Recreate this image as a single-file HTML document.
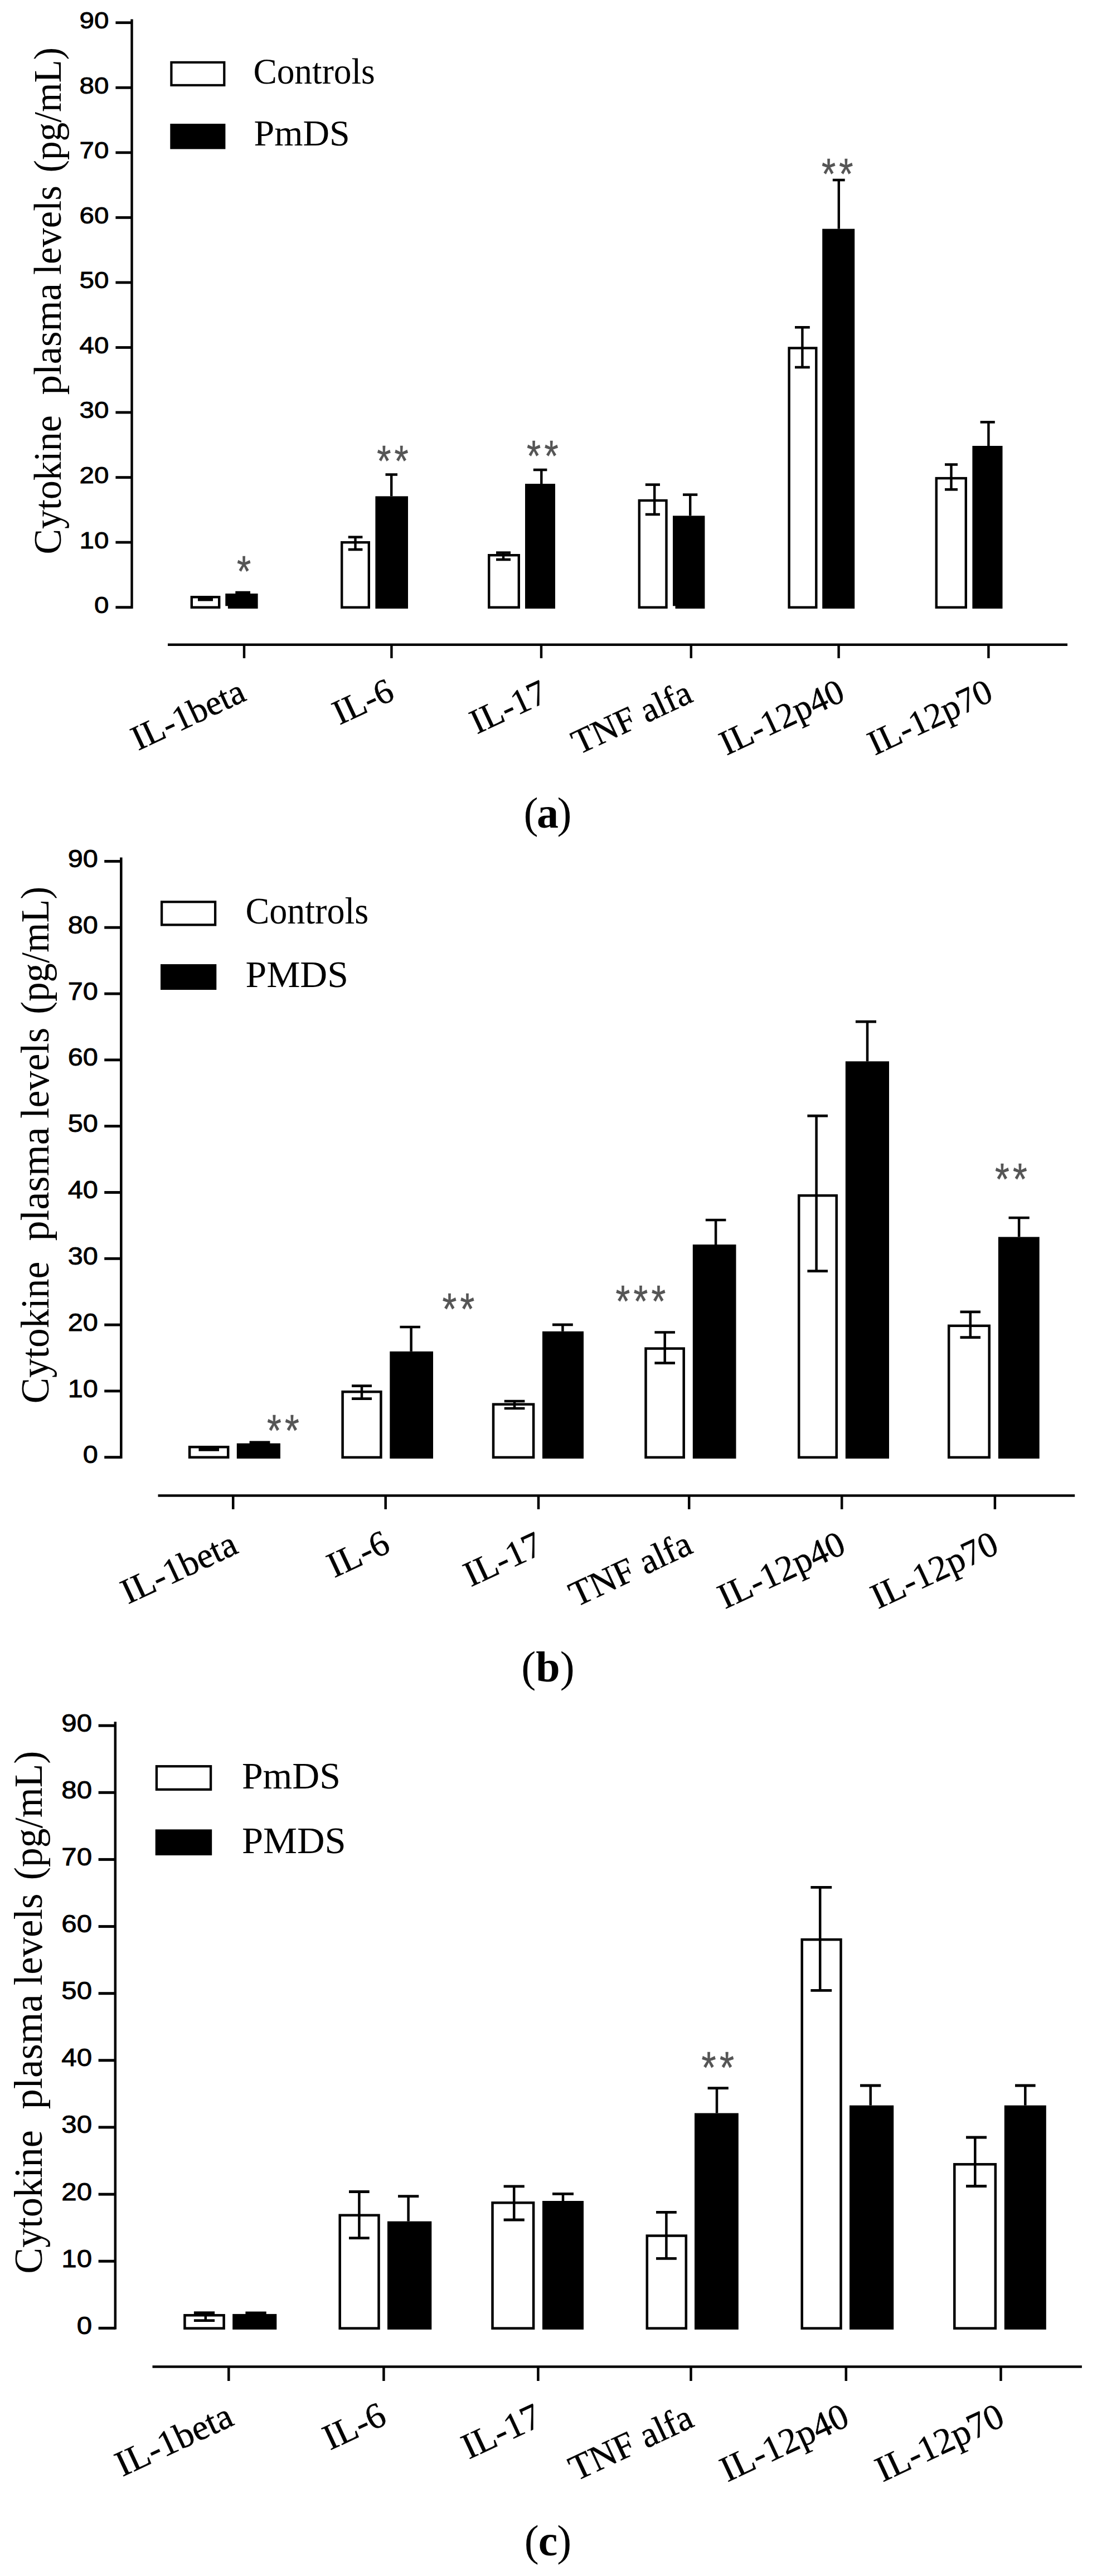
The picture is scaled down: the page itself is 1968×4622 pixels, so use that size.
<!DOCTYPE html>
<html lang="en"><head><meta charset="utf-8"><title>Cytokine plasma levels</title>
<style>html,body{margin:0;padding:0;background:#fff}svg{display:block}text{white-space:pre}</style>
</head><body>
<svg width="1968" height="4622" viewBox="0 0 1968 4622">
<rect width="1968" height="4622" fill="#fff"/>
<g>
<line x1="236.5" y1="34.4" x2="236.5" y2="1091.9" stroke="#000" stroke-width="4.4"/>
<line x1="207.4" y1="40.7" x2="236.5" y2="40.7" stroke="#000" stroke-width="4.8"/>
<g transform="translate(195.4,51.1) scale(1.1,1)">
<text x="0" y="0" font-family='"Liberation Sans", sans-serif' font-size="43.2" text-anchor="end" fill="#000" stroke="#000" stroke-width="0.9">90</text>
</g>
<line x1="207.4" y1="157.3" x2="236.5" y2="157.3" stroke="#000" stroke-width="4.8"/>
<g transform="translate(195.4,167.7) scale(1.1,1)">
<text x="0" y="0" font-family='"Liberation Sans", sans-serif' font-size="43.2" text-anchor="end" fill="#000" stroke="#000" stroke-width="0.9">80</text>
</g>
<line x1="207.4" y1="273.8" x2="236.5" y2="273.8" stroke="#000" stroke-width="4.8"/>
<g transform="translate(195.4,284.2) scale(1.1,1)">
<text x="0" y="0" font-family='"Liberation Sans", sans-serif' font-size="43.2" text-anchor="end" fill="#000" stroke="#000" stroke-width="0.9">70</text>
</g>
<line x1="207.4" y1="390.4" x2="236.5" y2="390.4" stroke="#000" stroke-width="4.8"/>
<g transform="translate(195.4,400.8) scale(1.1,1)">
<text x="0" y="0" font-family='"Liberation Sans", sans-serif' font-size="43.2" text-anchor="end" fill="#000" stroke="#000" stroke-width="0.9">60</text>
</g>
<line x1="207.4" y1="506.9" x2="236.5" y2="506.9" stroke="#000" stroke-width="4.8"/>
<g transform="translate(195.4,517.3) scale(1.1,1)">
<text x="0" y="0" font-family='"Liberation Sans", sans-serif' font-size="43.2" text-anchor="end" fill="#000" stroke="#000" stroke-width="0.9">50</text>
</g>
<line x1="207.4" y1="623.5" x2="236.5" y2="623.5" stroke="#000" stroke-width="4.8"/>
<g transform="translate(195.4,633.9) scale(1.1,1)">
<text x="0" y="0" font-family='"Liberation Sans", sans-serif' font-size="43.2" text-anchor="end" fill="#000" stroke="#000" stroke-width="0.9">40</text>
</g>
<line x1="207.4" y1="740" x2="236.5" y2="740" stroke="#000" stroke-width="4.8"/>
<g transform="translate(195.4,750.4) scale(1.1,1)">
<text x="0" y="0" font-family='"Liberation Sans", sans-serif' font-size="43.2" text-anchor="end" fill="#000" stroke="#000" stroke-width="0.9">30</text>
</g>
<line x1="207.4" y1="856.6" x2="236.5" y2="856.6" stroke="#000" stroke-width="4.8"/>
<g transform="translate(195.4,867) scale(1.1,1)">
<text x="0" y="0" font-family='"Liberation Sans", sans-serif' font-size="43.2" text-anchor="end" fill="#000" stroke="#000" stroke-width="0.9">20</text>
</g>
<line x1="207.4" y1="973.1" x2="236.5" y2="973.1" stroke="#000" stroke-width="4.8"/>
<g transform="translate(195.4,983.5) scale(1.1,1)">
<text x="0" y="0" font-family='"Liberation Sans", sans-serif' font-size="43.2" text-anchor="end" fill="#000" stroke="#000" stroke-width="0.9">10</text>
</g>
<line x1="207.4" y1="1089.7" x2="236.5" y2="1089.7" stroke="#000" stroke-width="4.8"/>
<g transform="translate(195.4,1100.1) scale(1.1,1)">
<text x="0" y="0" font-family='"Liberation Sans", sans-serif' font-size="43.2" text-anchor="end" fill="#000" stroke="#000" stroke-width="0.9">0</text>
</g>
<g transform="translate(108.8,994.5) rotate(-90)">
<text y="0" font-family='"Liberation Serif", serif' font-size="69.5" fill="#000"><tspan x="0" textLength="249.5" lengthAdjust="spacingAndGlyphs">Cytokine</tspan> <tspan x="286" textLength="200.5" lengthAdjust="spacingAndGlyphs">plasma</tspan> <tspan x="501.5" textLength="160" lengthAdjust="spacingAndGlyphs">levels</tspan> <tspan x="685" textLength="224.5" lengthAdjust="spacingAndGlyphs">(pg/mL)</tspan></text>
</g>
<rect x="307.4" y="111.9" width="94.9" height="41" fill="#fff" stroke="#000" stroke-width="4.2"/>
<rect x="305.3" y="222" width="99.1" height="45.5" fill="#000"/>
<text x="454.4" y="150.4" font-family='"Liberation Serif", serif' font-size="66.5" text-anchor="start" fill="#000" textLength="218.3" lengthAdjust="spacingAndGlyphs">Controls</text>
<text x="455.5" y="261.4" font-family='"Liberation Serif", serif' font-size="66.5" text-anchor="start" fill="#000" textLength="172.1" lengthAdjust="spacingAndGlyphs">PmDS</text>
<line x1="301" y1="1156.8" x2="1915" y2="1156.8" stroke="#000" stroke-width="4.4"/>
<line x1="438" y1="1156.8" x2="438" y2="1181" stroke="#000" stroke-width="4.4"/>
<line x1="702.4" y1="1156.8" x2="702.4" y2="1181" stroke="#000" stroke-width="4.4"/>
<line x1="971" y1="1156.8" x2="971" y2="1181" stroke="#000" stroke-width="4.4"/>
<line x1="1239.8" y1="1156.8" x2="1239.8" y2="1181" stroke="#000" stroke-width="4.4"/>
<line x1="1504.6" y1="1156.8" x2="1504.6" y2="1181" stroke="#000" stroke-width="4.4"/>
<line x1="1773.4" y1="1156.8" x2="1773.4" y2="1181" stroke="#000" stroke-width="4.4"/>
<rect x="343.8" y="1071.3" width="49.4" height="18.5" fill="#fff" stroke="#000" stroke-width="4.4"/>
<line x1="368.5" y1="1072" x2="368.5" y2="1076.2" stroke="#000" stroke-width="4.4"/>
<line x1="355" y1="1072" x2="382" y2="1072" stroke="#000" stroke-width="4.6"/>
<line x1="355" y1="1076.2" x2="382" y2="1076.2" stroke="#000" stroke-width="4.6"/>
<rect x="404.3" y="1065" width="58.3" height="27" fill="#000"/>
<line x1="435.6" y1="1063" x2="435.6" y2="1065" stroke="#000" stroke-width="4.4"/>
<line x1="422.3" y1="1063" x2="449" y2="1063" stroke="#000" stroke-width="4.6"/>
<rect x="613.2" y="973.2" width="48.6" height="116.6" fill="#fff" stroke="#000" stroke-width="4.4"/>
<line x1="637.5" y1="963.7" x2="637.5" y2="986" stroke="#000" stroke-width="4.4"/>
<line x1="624.7" y1="963.7" x2="650.4" y2="963.7" stroke="#000" stroke-width="4.6"/>
<line x1="624.7" y1="986" x2="650.4" y2="986" stroke="#000" stroke-width="4.6"/>
<rect x="673.4" y="890.4" width="58.6" height="201.6" fill="#000"/>
<line x1="702.2" y1="851.5" x2="702.2" y2="890.4" stroke="#000" stroke-width="4.4"/>
<line x1="691.5" y1="851.5" x2="713" y2="851.5" stroke="#000" stroke-width="4.6"/>
<rect x="877.2" y="996.2" width="53.6" height="93.6" fill="#fff" stroke="#000" stroke-width="4.4"/>
<line x1="903" y1="991.6" x2="903" y2="1004" stroke="#000" stroke-width="4.4"/>
<line x1="890" y1="991.6" x2="916" y2="991.6" stroke="#000" stroke-width="4.6"/>
<line x1="890" y1="1004" x2="916" y2="1004" stroke="#000" stroke-width="4.6"/>
<rect x="942" y="868" width="54" height="224" fill="#000"/>
<line x1="971.3" y1="843" x2="971.3" y2="868" stroke="#000" stroke-width="4.4"/>
<line x1="956.8" y1="843" x2="981.4" y2="843" stroke="#000" stroke-width="4.6"/>
<rect x="1146.8" y="898" width="48.7" height="191.8" fill="#fff" stroke="#000" stroke-width="4.4"/>
<line x1="1174.2" y1="869.6" x2="1174.2" y2="923" stroke="#000" stroke-width="4.4"/>
<line x1="1157.8" y1="869.6" x2="1184" y2="869.6" stroke="#000" stroke-width="4.6"/>
<line x1="1157.8" y1="923" x2="1184" y2="923" stroke="#000" stroke-width="4.6"/>
<rect x="1207" y="925.4" width="57.4" height="166.6" fill="#000"/>
<line x1="1238.2" y1="887.6" x2="1238.2" y2="925.4" stroke="#000" stroke-width="4.4"/>
<line x1="1225" y1="887.6" x2="1251.3" y2="887.6" stroke="#000" stroke-width="4.6"/>
<rect x="1415.6" y="624.5" width="48.7" height="465.3" fill="#fff" stroke="#000" stroke-width="4.4"/>
<line x1="1439.4" y1="587.3" x2="1439.4" y2="659" stroke="#000" stroke-width="4.4"/>
<line x1="1426" y1="587.3" x2="1452.8" y2="587.3" stroke="#000" stroke-width="4.6"/>
<line x1="1426" y1="659" x2="1452.8" y2="659" stroke="#000" stroke-width="4.6"/>
<rect x="1475.2" y="410.6" width="58" height="681.4" fill="#000"/>
<line x1="1504.8" y1="323" x2="1504.8" y2="410.6" stroke="#000" stroke-width="4.4"/>
<line x1="1493.8" y1="323" x2="1515.7" y2="323" stroke="#000" stroke-width="4.6"/>
<rect x="1679.8" y="858.1" width="53" height="231.7" fill="#fff" stroke="#000" stroke-width="4.4"/>
<line x1="1706.5" y1="833.5" x2="1706.5" y2="878.3" stroke="#000" stroke-width="4.4"/>
<line x1="1695" y1="833.5" x2="1718" y2="833.5" stroke="#000" stroke-width="4.6"/>
<line x1="1695" y1="878.3" x2="1718" y2="878.3" stroke="#000" stroke-width="4.6"/>
<rect x="1744.4" y="800" width="54.1" height="292" fill="#000"/>
<line x1="1773.4" y1="757.4" x2="1773.4" y2="800" stroke="#000" stroke-width="4.4"/>
<line x1="1758.6" y1="757.4" x2="1784.8" y2="757.4" stroke="#000" stroke-width="4.6"/>
<rect x="404" y="1087.3" width="4.9" height="5.2" fill="#fff"/>
<rect x="1206.5" y="1087.3" width="5" height="5.2" fill="#fff"/>
<g transform="translate(424.9,1051.5) scale(0.83,1)"><text x="0" y="0" font-family='"Liberation Sans", sans-serif' font-size="78" letter-spacing="7.5" fill="#555" stroke="#555" stroke-width="0.6">*</text></g>
<g transform="translate(676.2,854) scale(0.83,1)"><text x="0" y="0" font-family='"Liberation Sans", sans-serif' font-size="78" letter-spacing="7.5" fill="#555" stroke="#555" stroke-width="0.6">**</text></g>
<g transform="translate(945,845.2) scale(0.83,1)"><text x="0" y="0" font-family='"Liberation Sans", sans-serif' font-size="78" letter-spacing="7.5" fill="#555" stroke="#555" stroke-width="0.6">**</text></g>
<g transform="translate(1473.9,339) scale(0.83,1)"><text x="0" y="0" font-family='"Liberation Sans", sans-serif' font-size="78" letter-spacing="7.5" fill="#555" stroke="#555" stroke-width="0.6">**</text></g>
<g transform="translate(444.4,1255.5) rotate(-25)">
<text x="0" y="0" font-family='"Liberation Serif", serif' font-size="63" text-anchor="end" fill="#000" stroke="#000" stroke-width="0.5">IL-1beta</text>
</g>
<g transform="translate(710.5,1254) rotate(-25)">
<text x="0" y="0" font-family='"Liberation Serif", serif' font-size="63" text-anchor="end" fill="#000" stroke="#000" stroke-width="0.5">IL-6</text>
</g>
<g transform="translate(985.6,1257) rotate(-25)">
<text x="0" y="0" font-family='"Liberation Serif", serif' font-size="63" text-anchor="end" fill="#000" stroke="#000" stroke-width="0.5">IL-17</text>
</g>
<g transform="translate(1245.8,1257.6) rotate(-25)">
<text x="0" y="0" font-family='"Liberation Serif", serif' font-size="63" text-anchor="end" fill="#000" stroke="#000" stroke-width="0.5">TNF alfa</text>
</g>
<g transform="translate(1519,1255.4) rotate(-25)">
<text x="0" y="0" font-family='"Liberation Serif", serif' font-size="63" text-anchor="end" fill="#000" stroke="#000" stroke-width="0.5">IL-12p40</text>
</g>
<g transform="translate(1784.9,1255.4) rotate(-25)">
<text x="0" y="0" font-family='"Liberation Serif", serif' font-size="63" text-anchor="end" fill="#000" stroke="#000" stroke-width="0.5">IL-12p70</text>
</g>
<text x="982.5" y="1484.7" font-family='"Liberation Serif", serif' font-size="78" text-anchor="middle" fill="#000" textLength="86" lengthAdjust="spacing">(<tspan font-weight="bold">a</tspan>)</text>
</g>
<g>
<line x1="217.3" y1="1538.4" x2="217.3" y2="2616.9" stroke="#000" stroke-width="4.5"/>
<line x1="187.2" y1="1545.4" x2="217.3" y2="1545.4" stroke="#000" stroke-width="4.9"/>
<g transform="translate(175.8,1556) scale(1.1,1)">
<text x="0" y="0" font-family='"Liberation Sans", sans-serif' font-size="44.2" text-anchor="end" fill="#000" stroke="#000" stroke-width="0.9">90</text>
</g>
<line x1="187.2" y1="1664.2" x2="217.3" y2="1664.2" stroke="#000" stroke-width="4.9"/>
<g transform="translate(175.8,1674.8) scale(1.1,1)">
<text x="0" y="0" font-family='"Liberation Sans", sans-serif' font-size="44.2" text-anchor="end" fill="#000" stroke="#000" stroke-width="0.9">80</text>
</g>
<line x1="187.2" y1="1783" x2="217.3" y2="1783" stroke="#000" stroke-width="4.9"/>
<g transform="translate(175.8,1793.6) scale(1.1,1)">
<text x="0" y="0" font-family='"Liberation Sans", sans-serif' font-size="44.2" text-anchor="end" fill="#000" stroke="#000" stroke-width="0.9">70</text>
</g>
<line x1="187.2" y1="1901.8" x2="217.3" y2="1901.8" stroke="#000" stroke-width="4.9"/>
<g transform="translate(175.8,1912.4) scale(1.1,1)">
<text x="0" y="0" font-family='"Liberation Sans", sans-serif' font-size="44.2" text-anchor="end" fill="#000" stroke="#000" stroke-width="0.9">60</text>
</g>
<line x1="187.2" y1="2020.6" x2="217.3" y2="2020.6" stroke="#000" stroke-width="4.9"/>
<g transform="translate(175.8,2031.2) scale(1.1,1)">
<text x="0" y="0" font-family='"Liberation Sans", sans-serif' font-size="44.2" text-anchor="end" fill="#000" stroke="#000" stroke-width="0.9">50</text>
</g>
<line x1="187.2" y1="2139.5" x2="217.3" y2="2139.5" stroke="#000" stroke-width="4.9"/>
<g transform="translate(175.8,2150.1) scale(1.1,1)">
<text x="0" y="0" font-family='"Liberation Sans", sans-serif' font-size="44.2" text-anchor="end" fill="#000" stroke="#000" stroke-width="0.9">40</text>
</g>
<line x1="187.2" y1="2258.3" x2="217.3" y2="2258.3" stroke="#000" stroke-width="4.9"/>
<g transform="translate(175.8,2268.9) scale(1.1,1)">
<text x="0" y="0" font-family='"Liberation Sans", sans-serif' font-size="44.2" text-anchor="end" fill="#000" stroke="#000" stroke-width="0.9">30</text>
</g>
<line x1="187.2" y1="2377.1" x2="217.3" y2="2377.1" stroke="#000" stroke-width="4.9"/>
<g transform="translate(175.8,2387.7) scale(1.1,1)">
<text x="0" y="0" font-family='"Liberation Sans", sans-serif' font-size="44.2" text-anchor="end" fill="#000" stroke="#000" stroke-width="0.9">20</text>
</g>
<line x1="187.2" y1="2495.9" x2="217.3" y2="2495.9" stroke="#000" stroke-width="4.9"/>
<g transform="translate(175.8,2506.5) scale(1.1,1)">
<text x="0" y="0" font-family='"Liberation Sans", sans-serif' font-size="44.2" text-anchor="end" fill="#000" stroke="#000" stroke-width="0.9">10</text>
</g>
<line x1="187.2" y1="2614.7" x2="217.3" y2="2614.7" stroke="#000" stroke-width="4.9"/>
<g transform="translate(175.8,2625.3) scale(1.1,1)">
<text x="0" y="0" font-family='"Liberation Sans", sans-serif' font-size="44.2" text-anchor="end" fill="#000" stroke="#000" stroke-width="0.9">0</text>
</g>
<g transform="translate(86.7,2518.3) rotate(-90)">
<text y="0" font-family='"Liberation Serif", serif' font-size="70.9" fill="#000"><tspan x="0" textLength="254.5" lengthAdjust="spacingAndGlyphs">Cytokine</tspan> <tspan x="291.7" textLength="204.5" lengthAdjust="spacingAndGlyphs">plasma</tspan> <tspan x="511.4" textLength="163" lengthAdjust="spacingAndGlyphs">levels</tspan> <tspan x="698.6" textLength="229" lengthAdjust="spacingAndGlyphs">(pg/mL)</tspan></text>
</g>
<rect x="290.1" y="1618.2" width="96" height="41.2" fill="#fff" stroke="#000" stroke-width="4.3"/>
<rect x="288" y="1730" width="100.3" height="46" fill="#000"/>
<text x="440.5" y="1656.6" font-family='"Liberation Serif", serif' font-size="67.8" text-anchor="start" fill="#000" textLength="220.7" lengthAdjust="spacingAndGlyphs">Controls</text>
<text x="440.5" y="1771.4" font-family='"Liberation Serif", serif' font-size="67.8" text-anchor="start" fill="#000" textLength="184.3" lengthAdjust="spacingAndGlyphs">PMDS</text>
<line x1="283.5" y1="2683.4" x2="1928.2" y2="2683.4" stroke="#000" stroke-width="4.5"/>
<line x1="418.2" y1="2683.4" x2="418.2" y2="2708" stroke="#000" stroke-width="4.5"/>
<line x1="691.7" y1="2683.4" x2="691.7" y2="2708" stroke="#000" stroke-width="4.5"/>
<line x1="966" y1="2683.4" x2="966" y2="2708" stroke="#000" stroke-width="4.5"/>
<line x1="1236.2" y1="2683.4" x2="1236.2" y2="2708" stroke="#000" stroke-width="4.5"/>
<line x1="1510.2" y1="2683.4" x2="1510.2" y2="2708" stroke="#000" stroke-width="4.5"/>
<line x1="1784.9" y1="2683.4" x2="1784.9" y2="2708" stroke="#000" stroke-width="4.5"/>
<rect x="340.1" y="2596.3" width="69.1" height="18.5" fill="#fff" stroke="#000" stroke-width="4.5"/>
<line x1="374.8" y1="2596.9" x2="374.8" y2="2601.3" stroke="#000" stroke-width="4.5"/>
<line x1="356.5" y1="2596.9" x2="393" y2="2596.9" stroke="#000" stroke-width="4.7"/>
<line x1="356.5" y1="2601.3" x2="393" y2="2601.3" stroke="#000" stroke-width="4.7"/>
<rect x="424.8" y="2589.7" width="78.1" height="27.4" fill="#000"/>
<line x1="466" y1="2587.8" x2="466" y2="2589.7" stroke="#000" stroke-width="4.5"/>
<line x1="447.6" y1="2587.8" x2="484.4" y2="2587.8" stroke="#000" stroke-width="4.7"/>
<rect x="614.6" y="2497.2" width="68.8" height="117.7" fill="#fff" stroke="#000" stroke-width="4.5"/>
<line x1="649" y1="2486.7" x2="649" y2="2509.6" stroke="#000" stroke-width="4.5"/>
<line x1="631" y1="2486.7" x2="667" y2="2486.7" stroke="#000" stroke-width="4.7"/>
<line x1="631" y1="2509.6" x2="667" y2="2509.6" stroke="#000" stroke-width="4.7"/>
<rect x="699.3" y="2424.8" width="77.7" height="192.3" fill="#000"/>
<line x1="737.6" y1="2381" x2="737.6" y2="2424.8" stroke="#000" stroke-width="4.5"/>
<line x1="717.4" y1="2381" x2="754" y2="2381" stroke="#000" stroke-width="4.7"/>
<rect x="885" y="2519.7" width="72.1" height="95.2" fill="#fff" stroke="#000" stroke-width="4.5"/>
<line x1="923" y1="2514" x2="923" y2="2527" stroke="#000" stroke-width="4.5"/>
<line x1="904.7" y1="2514" x2="941.4" y2="2514" stroke="#000" stroke-width="4.7"/>
<line x1="904.7" y1="2527" x2="941.4" y2="2527" stroke="#000" stroke-width="4.7"/>
<rect x="973" y="2388.8" width="74" height="228.3" fill="#000"/>
<line x1="1009.4" y1="2376.8" x2="1009.4" y2="2388.8" stroke="#000" stroke-width="4.5"/>
<line x1="991" y1="2376.8" x2="1027.8" y2="2376.8" stroke="#000" stroke-width="4.7"/>
<rect x="1158.5" y="2419.6" width="68.2" height="195.3" fill="#fff" stroke="#000" stroke-width="4.5"/>
<line x1="1192.7" y1="2390.5" x2="1192.7" y2="2445.7" stroke="#000" stroke-width="4.5"/>
<line x1="1174.4" y1="2390.5" x2="1211" y2="2390.5" stroke="#000" stroke-width="4.7"/>
<line x1="1174.4" y1="2445.7" x2="1211" y2="2445.7" stroke="#000" stroke-width="4.7"/>
<rect x="1242.8" y="2233" width="77.7" height="384.1" fill="#000"/>
<line x1="1284.1" y1="2189" x2="1284.1" y2="2233" stroke="#000" stroke-width="4.5"/>
<line x1="1265.8" y1="2189" x2="1302.4" y2="2189" stroke="#000" stroke-width="4.7"/>
<rect x="1433.2" y="2145.1" width="67.5" height="469.8" fill="#fff" stroke="#000" stroke-width="4.5"/>
<line x1="1464.6" y1="2002.2" x2="1464.6" y2="2280.6" stroke="#000" stroke-width="4.5"/>
<line x1="1448.4" y1="2002.2" x2="1485" y2="2002.2" stroke="#000" stroke-width="4.7"/>
<line x1="1448.4" y1="2280.6" x2="1485" y2="2280.6" stroke="#000" stroke-width="4.7"/>
<rect x="1516.8" y="1904.3" width="78.2" height="712.8" fill="#000"/>
<line x1="1556" y1="1833.2" x2="1556" y2="1904.3" stroke="#000" stroke-width="4.5"/>
<line x1="1534.9" y1="1833.2" x2="1572" y2="1833.2" stroke="#000" stroke-width="4.7"/>
<rect x="1702.2" y="2378.8" width="72.5" height="236.1" fill="#fff" stroke="#000" stroke-width="4.5"/>
<line x1="1740.8" y1="2353.8" x2="1740.8" y2="2399.6" stroke="#000" stroke-width="4.5"/>
<line x1="1722.5" y1="2353.8" x2="1759" y2="2353.8" stroke="#000" stroke-width="4.7"/>
<line x1="1722.5" y1="2399.6" x2="1759" y2="2399.6" stroke="#000" stroke-width="4.7"/>
<rect x="1790.9" y="2219.4" width="73.8" height="397.7" fill="#000"/>
<line x1="1828.1" y1="2185" x2="1828.1" y2="2219.4" stroke="#000" stroke-width="4.5"/>
<line x1="1809.5" y1="2185" x2="1846.7" y2="2185" stroke="#000" stroke-width="4.7"/>
<g transform="translate(478.9,2594.2) scale(0.848,1.022)"><text x="0" y="0" font-family='"Liberation Sans", sans-serif' font-size="78" letter-spacing="7.5" fill="#555" stroke="#555" stroke-width="0.6">**</text></g>
<g transform="translate(793.4,2376.1) scale(0.848,1.022)"><text x="0" y="0" font-family='"Liberation Sans", sans-serif' font-size="78" letter-spacing="7.5" fill="#555" stroke="#555" stroke-width="0.6">**</text></g>
<g transform="translate(1104.4,2361.5) scale(0.848,1.022)"><text x="0" y="0" font-family='"Liberation Sans", sans-serif' font-size="78" letter-spacing="7.5" fill="#555" stroke="#555" stroke-width="0.6">***</text></g>
<g transform="translate(1784.9,2142.7) scale(0.848,1.022)"><text x="0" y="0" font-family='"Liberation Sans", sans-serif' font-size="78" letter-spacing="7.5" fill="#555" stroke="#555" stroke-width="0.6">**</text></g>
<g transform="translate(430.1,2785.3) rotate(-25)">
<text x="0" y="0" font-family='"Liberation Serif", serif' font-size="64.3" text-anchor="end" fill="#000" stroke="#000" stroke-width="0.5">IL-1beta</text>
</g>
<g transform="translate(703.1,2783.2) rotate(-25)">
<text x="0" y="0" font-family='"Liberation Serif", serif' font-size="64.3" text-anchor="end" fill="#000" stroke="#000" stroke-width="0.5">IL-6</text>
</g>
<g transform="translate(977.2,2786) rotate(-25)">
<text x="0" y="0" font-family='"Liberation Serif", serif' font-size="64.3" text-anchor="end" fill="#000" stroke="#000" stroke-width="0.5">IL-17</text>
</g>
<g transform="translate(1245.8,2784.9) rotate(-25)">
<text x="0" y="0" font-family='"Liberation Serif", serif' font-size="64.3" text-anchor="end" fill="#000" stroke="#000" stroke-width="0.5">TNF alfa</text>
</g>
<g transform="translate(1520.6,2784.8) rotate(-25)">
<text x="0" y="0" font-family='"Liberation Serif", serif' font-size="64.3" text-anchor="end" fill="#000" stroke="#000" stroke-width="0.5">IL-12p40</text>
</g>
<g transform="translate(1795.2,2784.8) rotate(-25)">
<text x="0" y="0" font-family='"Liberation Serif", serif' font-size="64.3" text-anchor="end" fill="#000" stroke="#000" stroke-width="0.5">IL-12p70</text>
</g>
<text x="983" y="3017" font-family='"Liberation Serif", serif' font-size="78" text-anchor="middle" fill="#000" textLength="95.3" lengthAdjust="spacing">(<tspan font-weight="bold">b</tspan>)</text>
</g>
<g>
<line x1="206.8" y1="3089.3" x2="206.8" y2="4179.6" stroke="#000" stroke-width="4.5"/>
<line x1="176.6" y1="3096.2" x2="206.8" y2="3096.2" stroke="#000" stroke-width="5"/>
<g transform="translate(165.1,3106.7) scale(1.1,1)">
<text x="0" y="0" font-family='"Liberation Sans", sans-serif' font-size="44.8" text-anchor="end" fill="#000" stroke="#000" stroke-width="0.9">90</text>
</g>
<line x1="176.6" y1="3216.3" x2="206.8" y2="3216.3" stroke="#000" stroke-width="5"/>
<g transform="translate(165.1,3226.8) scale(1.1,1)">
<text x="0" y="0" font-family='"Liberation Sans", sans-serif' font-size="44.8" text-anchor="end" fill="#000" stroke="#000" stroke-width="0.9">80</text>
</g>
<line x1="176.6" y1="3336.4" x2="206.8" y2="3336.4" stroke="#000" stroke-width="5"/>
<g transform="translate(165.1,3346.9) scale(1.1,1)">
<text x="0" y="0" font-family='"Liberation Sans", sans-serif' font-size="44.8" text-anchor="end" fill="#000" stroke="#000" stroke-width="0.9">70</text>
</g>
<line x1="176.6" y1="3456.6" x2="206.8" y2="3456.6" stroke="#000" stroke-width="5"/>
<g transform="translate(165.1,3467.1) scale(1.1,1)">
<text x="0" y="0" font-family='"Liberation Sans", sans-serif' font-size="44.8" text-anchor="end" fill="#000" stroke="#000" stroke-width="0.9">60</text>
</g>
<line x1="176.6" y1="3576.7" x2="206.8" y2="3576.7" stroke="#000" stroke-width="5"/>
<g transform="translate(165.1,3587.2) scale(1.1,1)">
<text x="0" y="0" font-family='"Liberation Sans", sans-serif' font-size="44.8" text-anchor="end" fill="#000" stroke="#000" stroke-width="0.9">50</text>
</g>
<line x1="176.6" y1="3696.8" x2="206.8" y2="3696.8" stroke="#000" stroke-width="5"/>
<g transform="translate(165.1,3707.3) scale(1.1,1)">
<text x="0" y="0" font-family='"Liberation Sans", sans-serif' font-size="44.8" text-anchor="end" fill="#000" stroke="#000" stroke-width="0.9">40</text>
</g>
<line x1="176.6" y1="3816.9" x2="206.8" y2="3816.9" stroke="#000" stroke-width="5"/>
<g transform="translate(165.1,3827.4) scale(1.1,1)">
<text x="0" y="0" font-family='"Liberation Sans", sans-serif' font-size="44.8" text-anchor="end" fill="#000" stroke="#000" stroke-width="0.9">30</text>
</g>
<line x1="176.6" y1="3937.1" x2="206.8" y2="3937.1" stroke="#000" stroke-width="5"/>
<g transform="translate(165.1,3947.6) scale(1.1,1)">
<text x="0" y="0" font-family='"Liberation Sans", sans-serif' font-size="44.8" text-anchor="end" fill="#000" stroke="#000" stroke-width="0.9">20</text>
</g>
<line x1="176.6" y1="4057.2" x2="206.8" y2="4057.2" stroke="#000" stroke-width="5"/>
<g transform="translate(165.1,4067.7) scale(1.1,1)">
<text x="0" y="0" font-family='"Liberation Sans", sans-serif' font-size="44.8" text-anchor="end" fill="#000" stroke="#000" stroke-width="0.9">10</text>
</g>
<line x1="176.6" y1="4177.3" x2="206.8" y2="4177.3" stroke="#000" stroke-width="5"/>
<g transform="translate(165.1,4187.8) scale(1.1,1)">
<text x="0" y="0" font-family='"Liberation Sans", sans-serif' font-size="44.8" text-anchor="end" fill="#000" stroke="#000" stroke-width="0.9">0</text>
</g>
<g transform="translate(74.9,4079.7) rotate(-90)">
<text y="0" font-family='"Liberation Serif", serif' font-size="71.7" fill="#000"><tspan x="0" textLength="257.5" lengthAdjust="spacingAndGlyphs">Cytokine</tspan> <tspan x="295.1" textLength="206.5" lengthAdjust="spacingAndGlyphs">plasma</tspan> <tspan x="517.3" textLength="165" lengthAdjust="spacingAndGlyphs">levels</tspan> <tspan x="706.5" textLength="231.5" lengthAdjust="spacingAndGlyphs">(pg/mL)</tspan></text>
</g>
<rect x="280.9" y="3169.2" width="97.2" height="41.6" fill="#fff" stroke="#000" stroke-width="4.3"/>
<rect x="278.7" y="3282.4" width="101.5" height="46.6" fill="#000"/>
<text x="433.9" y="3209.2" font-family='"Liberation Serif", serif' font-size="68.6" text-anchor="start" fill="#000" textLength="177.1" lengthAdjust="spacingAndGlyphs">PmDS</text>
<text x="433.9" y="3324.5" font-family='"Liberation Serif", serif' font-size="68.6" text-anchor="start" fill="#000" textLength="186.6" lengthAdjust="spacingAndGlyphs">PMDS</text>
<line x1="273.5" y1="4246.6" x2="1940.9" y2="4246.6" stroke="#000" stroke-width="4.5"/>
<line x1="410.3" y1="4246.6" x2="410.3" y2="4272" stroke="#000" stroke-width="4.5"/>
<line x1="688.4" y1="4246.6" x2="688.4" y2="4272" stroke="#000" stroke-width="4.5"/>
<line x1="965.4" y1="4246.6" x2="965.4" y2="4272" stroke="#000" stroke-width="4.5"/>
<line x1="1239.5" y1="4246.6" x2="1239.5" y2="4272" stroke="#000" stroke-width="4.5"/>
<line x1="1517.8" y1="4246.6" x2="1517.8" y2="4272" stroke="#000" stroke-width="4.5"/>
<line x1="1795.5" y1="4246.6" x2="1795.5" y2="4272" stroke="#000" stroke-width="4.5"/>
<rect x="331.4" y="4154.2" width="70.2" height="23.4" fill="#fff" stroke="#000" stroke-width="4.5"/>
<line x1="368.8" y1="4149.7" x2="368.8" y2="4163.6" stroke="#000" stroke-width="4.5"/>
<line x1="347.9" y1="4149.7" x2="385.1" y2="4149.7" stroke="#000" stroke-width="4.8"/>
<line x1="347.9" y1="4163.6" x2="385.1" y2="4163.6" stroke="#000" stroke-width="4.8"/>
<rect x="417.2" y="4151.9" width="79.1" height="27.9" fill="#000"/>
<line x1="459" y1="4149.8" x2="459" y2="4151.9" stroke="#000" stroke-width="4.5"/>
<line x1="440.4" y1="4149.8" x2="477.7" y2="4149.8" stroke="#000" stroke-width="4.8"/>
<rect x="609.7" y="3974.7" width="69.8" height="202.9" fill="#fff" stroke="#000" stroke-width="4.5"/>
<line x1="644.4" y1="3932.5" x2="644.4" y2="4015.6" stroke="#000" stroke-width="4.5"/>
<line x1="626" y1="3932.5" x2="662.7" y2="3932.5" stroke="#000" stroke-width="4.8"/>
<line x1="626" y1="4015.6" x2="662.7" y2="4015.6" stroke="#000" stroke-width="4.8"/>
<rect x="695" y="3985.6" width="79.3" height="194.2" fill="#000"/>
<line x1="732.6" y1="3940.7" x2="732.6" y2="3985.6" stroke="#000" stroke-width="4.5"/>
<line x1="714" y1="3940.7" x2="751.3" y2="3940.7" stroke="#000" stroke-width="4.8"/>
<rect x="883.5" y="3952.3" width="73.6" height="225.3" fill="#fff" stroke="#000" stroke-width="4.5"/>
<line x1="922.2" y1="3922.8" x2="922.2" y2="3983" stroke="#000" stroke-width="4.5"/>
<line x1="903.6" y1="3922.8" x2="940.8" y2="3922.8" stroke="#000" stroke-width="4.8"/>
<line x1="903.6" y1="3983" x2="940.8" y2="3983" stroke="#000" stroke-width="4.8"/>
<rect x="973" y="3949" width="74" height="230.8" fill="#000"/>
<line x1="1010" y1="3936.4" x2="1010" y2="3949" stroke="#000" stroke-width="4.5"/>
<line x1="991" y1="3936.4" x2="1029" y2="3936.4" stroke="#000" stroke-width="4.8"/>
<rect x="1160.8" y="4011.5" width="70" height="166.1" fill="#fff" stroke="#000" stroke-width="4.5"/>
<line x1="1195.4" y1="3969.3" x2="1195.4" y2="4052.4" stroke="#000" stroke-width="4.5"/>
<line x1="1177" y1="3969.3" x2="1213.8" y2="3969.3" stroke="#000" stroke-width="4.8"/>
<line x1="1177" y1="4052.4" x2="1213.8" y2="4052.4" stroke="#000" stroke-width="4.8"/>
<rect x="1246" y="3791.5" width="78.8" height="388.3" fill="#000"/>
<line x1="1286" y1="3746.6" x2="1286" y2="3791.5" stroke="#000" stroke-width="4.5"/>
<line x1="1269.6" y1="3746.6" x2="1306.8" y2="3746.6" stroke="#000" stroke-width="4.8"/>
<rect x="1438.7" y="3480.1" width="69.8" height="697.5" fill="#fff" stroke="#000" stroke-width="4.5"/>
<line x1="1471.2" y1="3386.4" x2="1471.2" y2="3571.3" stroke="#000" stroke-width="4.5"/>
<line x1="1454.4" y1="3386.4" x2="1492.2" y2="3386.4" stroke="#000" stroke-width="4.8"/>
<line x1="1454.4" y1="3571.3" x2="1492.2" y2="3571.3" stroke="#000" stroke-width="4.8"/>
<rect x="1524" y="3777.6" width="79.2" height="402.2" fill="#000"/>
<line x1="1561.7" y1="3742" x2="1561.7" y2="3777.6" stroke="#000" stroke-width="4.5"/>
<line x1="1543" y1="3742" x2="1580.3" y2="3742" stroke="#000" stroke-width="4.8"/>
<rect x="1712.3" y="3883.3" width="73.5" height="294.3" fill="#fff" stroke="#000" stroke-width="4.5"/>
<line x1="1749.3" y1="3835" x2="1749.3" y2="3922.5" stroke="#000" stroke-width="4.5"/>
<line x1="1733" y1="3835" x2="1770" y2="3835" stroke="#000" stroke-width="4.8"/>
<line x1="1733" y1="3922.5" x2="1770" y2="3922.5" stroke="#000" stroke-width="4.8"/>
<rect x="1801.8" y="3777.6" width="75" height="402.2" fill="#000"/>
<line x1="1839.3" y1="3742" x2="1839.3" y2="3777.6" stroke="#000" stroke-width="4.5"/>
<line x1="1821" y1="3742" x2="1857.6" y2="3742" stroke="#000" stroke-width="4.8"/>
<g transform="translate(1258.6,3737.3) scale(0.857,1.033)"><text x="0" y="0" font-family='"Liberation Sans", sans-serif' font-size="78" letter-spacing="7.5" fill="#555" stroke="#555" stroke-width="0.6">**</text></g>
<g transform="translate(422.4,4349.8) rotate(-25)">
<text x="0" y="0" font-family='"Liberation Serif", serif' font-size="65" text-anchor="end" fill="#000" stroke="#000" stroke-width="0.5">IL-1beta</text>
</g>
<g transform="translate(696.8,4348) rotate(-25)">
<text x="0" y="0" font-family='"Liberation Serif", serif' font-size="65" text-anchor="end" fill="#000" stroke="#000" stroke-width="0.5">IL-6</text>
</g>
<g transform="translate(975.1,4350.5) rotate(-25)">
<text x="0" y="0" font-family='"Liberation Serif", serif' font-size="65" text-anchor="end" fill="#000" stroke="#000" stroke-width="0.5">IL-17</text>
</g>
<g transform="translate(1247.8,4352.4) rotate(-25)">
<text x="0" y="0" font-family='"Liberation Serif", serif' font-size="65" text-anchor="end" fill="#000" stroke="#000" stroke-width="0.5">TNF alfa</text>
</g>
<g transform="translate(1527.2,4350.2) rotate(-25)">
<text x="0" y="0" font-family='"Liberation Serif", serif' font-size="65" text-anchor="end" fill="#000" stroke="#000" stroke-width="0.5">IL-12p40</text>
</g>
<g transform="translate(1805.8,4350.2) rotate(-25)">
<text x="0" y="0" font-family='"Liberation Serif", serif' font-size="65" text-anchor="end" fill="#000" stroke="#000" stroke-width="0.5">IL-12p70</text>
</g>
<text x="983" y="4584.5" font-family='"Liberation Serif", serif' font-size="78" text-anchor="middle" fill="#000" textLength="84.4" lengthAdjust="spacing">(<tspan font-weight="bold">c</tspan>)</text>
</g>
</svg></body></html>
